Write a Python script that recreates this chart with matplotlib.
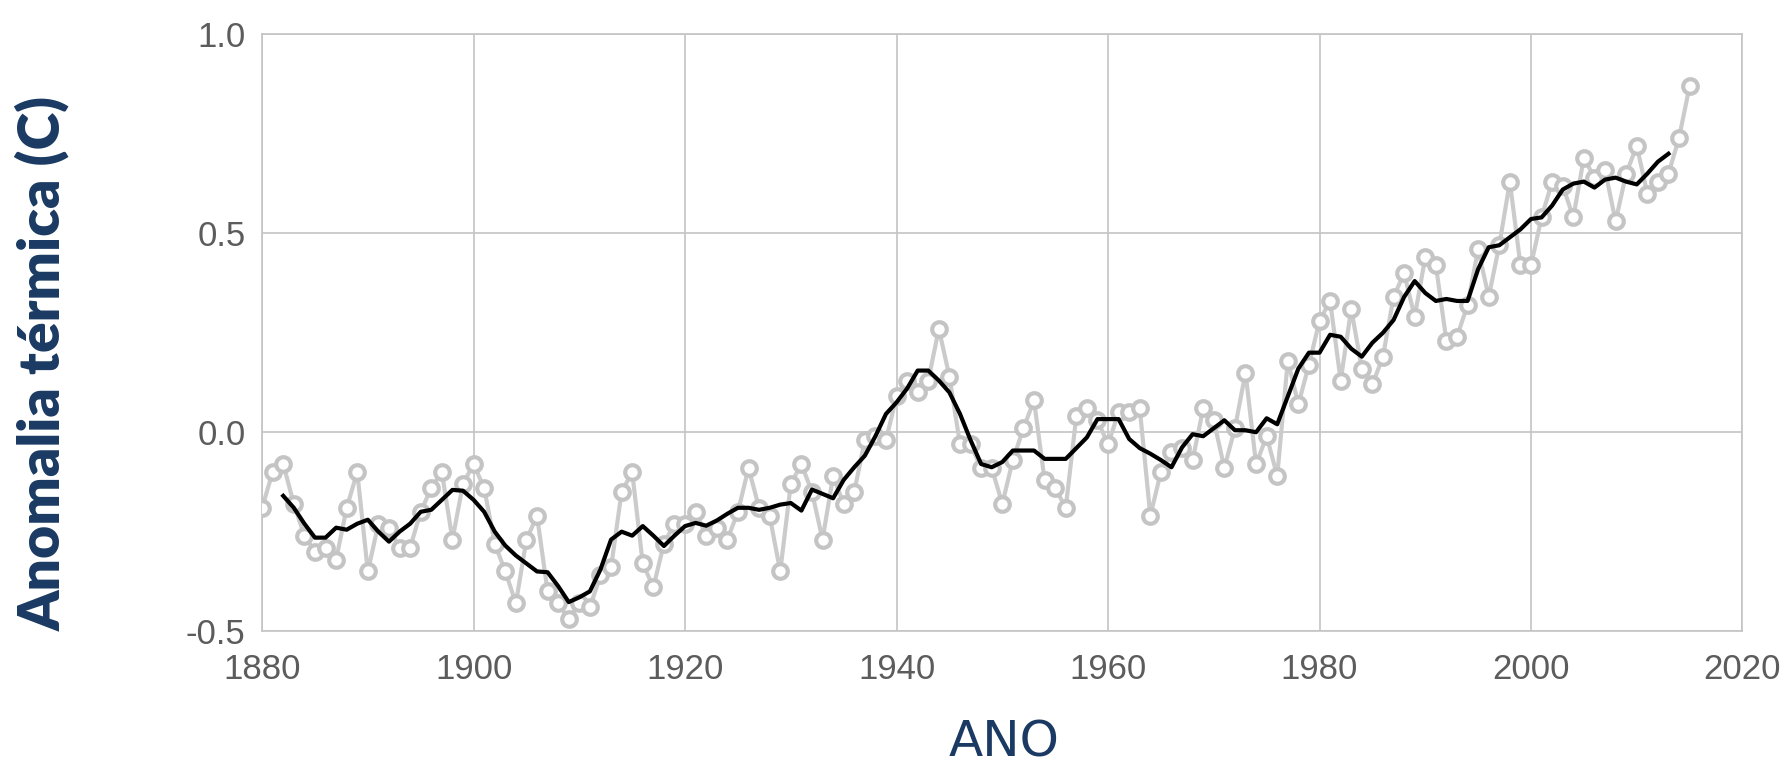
import numpy as np
import matplotlib.pyplot as plt
import matplotlib as mpl

plt.rcParams['axes.unicode_minus'] = False

# anomalia anual (C), 1880-2015
years = list(range(1880, 2016))
annual = [
    -0.19, -0.10, -0.08, -0.18, -0.26, -0.30, -0.29, -0.32, -0.19, -0.10,   # 1880s
    -0.35, -0.23, -0.24, -0.29, -0.29, -0.20, -0.14, -0.10, -0.27, -0.13,   # 1890s
    -0.08, -0.14, -0.28, -0.35, -0.43, -0.27, -0.21, -0.40, -0.43, -0.47,   # 1900s
    -0.43, -0.44, -0.36, -0.34, -0.15, -0.10, -0.33, -0.39, -0.28, -0.23,   # 1910s
    -0.23, -0.20, -0.26, -0.24, -0.27, -0.20, -0.09, -0.19, -0.21, -0.35,   # 1920s
    -0.13, -0.08, -0.15, -0.27, -0.11, -0.18, -0.15, -0.02, -0.01, -0.02,   # 1930s
    0.09, 0.13, 0.10, 0.13, 0.26, 0.14, -0.03, -0.03, -0.09, -0.09,         # 1940s
    -0.18, -0.07, 0.01, 0.08, -0.12, -0.14, -0.19, 0.04, 0.06, 0.03,        # 1950s
    -0.03, 0.05, 0.05, 0.06, -0.21, -0.10, -0.05, -0.04, -0.07, 0.06,       # 1960s
    0.03, -0.09, 0.01, 0.15, -0.08, -0.01, -0.11, 0.18, 0.07, 0.17,         # 1970s
    0.28, 0.33, 0.13, 0.31, 0.16, 0.12, 0.19, 0.34, 0.40, 0.29,             # 1980s
    0.44, 0.42, 0.23, 0.24, 0.32, 0.46, 0.34, 0.47, 0.63, 0.42,             # 1990s
    0.42, 0.54, 0.63, 0.62, 0.54, 0.69, 0.64, 0.66, 0.53, 0.65,             # 2000s
    0.72, 0.60, 0.63, 0.65, 0.74, 0.87,                                     # 2010s
]

# media movel de 5 anos, 1882-2013
smooth_years = list(range(1882, 2014))
smooth = [
    -0.16, -0.19, -0.23, -0.265, -0.265, -0.24, -0.245, -0.23,              # 1882-1889
    -0.22, -0.25, -0.275, -0.25, -0.23, -0.20, -0.195, -0.17, -0.145, -0.147,  # 1890s
    -0.17, -0.20, -0.25, -0.285, -0.31, -0.33, -0.35, -0.352, -0.387, -0.427,  # 1900s
    -0.415, -0.40, -0.345, -0.27, -0.25, -0.26, -0.236, -0.26, -0.286, -0.26,  # 1910s
    -0.236, -0.228, -0.235, -0.222, -0.205, -0.19, -0.19, -0.195, -0.19, -0.182,  # 1920s
    -0.178, -0.197, -0.144, -0.155, -0.166, -0.12, -0.088, -0.059, -0.01, 0.046,  # 1930s
    0.075, 0.11, 0.155, 0.155, 0.13, 0.10, 0.046, -0.02, -0.08, -0.088,     # 1940s
    -0.075, -0.046, -0.046, -0.046, -0.067, -0.067, -0.067, -0.04, -0.013, 0.033,  # 1950s
    0.033, 0.033, -0.017, -0.04, -0.054, -0.07, -0.088, -0.038, -0.005, -0.01,  # 1960s
    0.01, 0.03, 0.005, 0.005, 0.0, 0.035, 0.02, 0.09, 0.16, 0.20,          # 1970s
    0.20, 0.245, 0.24, 0.21, 0.19, 0.225, 0.25, 0.282, 0.34, 0.38,         # 1980s
    0.35, 0.33, 0.335, 0.33, 0.33, 0.41, 0.465, 0.47, 0.49, 0.51,          # 1990s
    0.536, 0.54, 0.57, 0.61, 0.625, 0.63, 0.615, 0.635, 0.64, 0.63,        # 2000s
    0.623, 0.65, 0.68, 0.70,                                               # 2010-2013
]

x_ticks = [1880, 1900, 1920, 1940, 1960, 1980, 2000, 2020]
y_ticks = [-0.5, 0.0, 0.5, 1.0]

navy = '#1b3a63'
grid_grey = '#c4c4c4'
tick_grey = '#5c5c5c'

fig = plt.figure(figsize=(17.89, 7.65), dpi=100)
ax = fig.add_axes([0.1465, 0.175, 0.8275, 0.78])

# serie anual: linha cinza + circulos abertos
ax.plot(years, annual, '-', color='#cbcbcb', linewidth=3.0, zorder=2)
ax.plot(years, annual, 'o', markersize=10.5, markerfacecolor='white',
        markeredgecolor='#c4c4c4', markeredgewidth=3.0, linestyle='none', zorder=3)
# media movel
ax.plot(smooth_years, smooth, '-', color='black', linewidth=3.0, zorder=4)

ax.set_xlim(1880, 2020)
ax.set_ylim(-0.5, 1.0)
ax.set_xticks(x_ticks)
ax.set_yticks(y_ticks)
ax.set_yticklabels([f'{v:.1f}' for v in y_ticks])
ax.grid(True, color=grid_grey, linewidth=1.2, zorder=0)
ax.set_axisbelow(True)
for sp in ax.spines.values():
    sp.set_color(grid_grey)
    sp.set_linewidth(1.2)
ax.tick_params(axis='both', length=0, labelcolor=tick_grey, labelsize=25)
ax.tick_params(axis='x', pad=16)
ax.tick_params(axis='y', pad=12)
for lbl in ax.get_xticklabels() + ax.get_yticklabels():
    lbl.set_fontfamily('Liberation Sans')

fig.text(0.0235, 0.525, 'Anomalia térmica (C)', rotation=90, ha='center', va='center',
         fontsize=41, fontweight='heavy', color=navy, family='Lato')
fig.text(0.561, 0.03, 'ANO', ha='center', va='center', fontsize=36,
         color=navy, family='DejaVu Sans')

fig.savefig('out.png', dpi=100)
